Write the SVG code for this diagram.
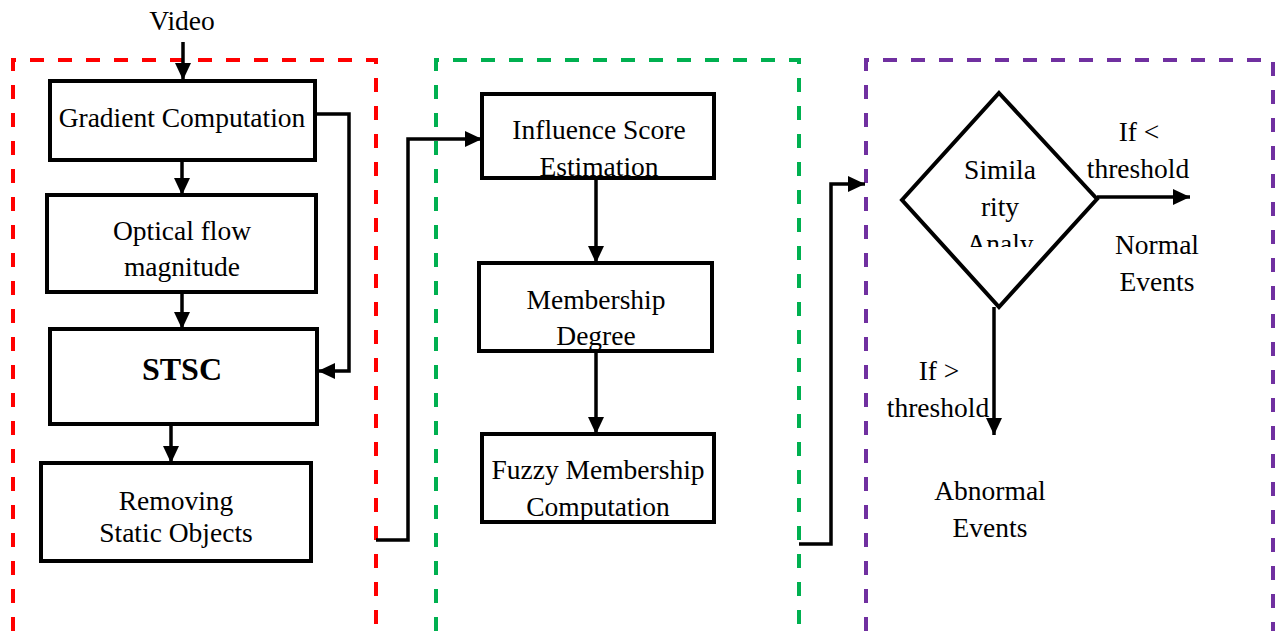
<svg xmlns="http://www.w3.org/2000/svg" width="1277" height="631" viewBox="0 0 1277 631">
<style>
.box{fill:#fff;stroke:#000;stroke-width:4}
.ln{fill:none;stroke:#000;stroke-width:3.5}
.t{font-family:"Liberation Serif","Times New Roman",serif;font-size:27.5px;fill:#000;text-anchor:middle}
.b{font-weight:bold;font-size:32px}
.grp{fill:none;stroke-width:4;stroke-dasharray:14 14}
</style>
<defs>
<marker id="ah" markerUnits="userSpaceOnUse" markerWidth="17" markerHeight="16" refX="17" refY="8" orient="auto">
<path d="M0,0 L17,8 L0,16 Z" fill="#000"/>
</marker>
<clipPath id="dclip"><rect x="900" y="90" width="200" height="157"/></clipPath>
</defs>
<rect width="1277" height="631" fill="#fff"/>
<g id="groups">
<path class="grp" stroke="#FF0000" d="M13,631 V60 H376 V631"/>
<path class="grp" stroke="#00B050" d="M436,631 V60 H799 V631"/>
<path class="grp" stroke="#7030A0" d="M866,631 V60 H1273 V631"/>
</g>
<g id="connectors">
<path class="ln" d="M183,42 V80" marker-end="url(#ah)"/>
<path class="ln" d="M182,160 V195" marker-end="url(#ah)"/>
<path class="ln" d="M182,292 V329" marker-end="url(#ah)"/>
<path class="ln" d="M171,424 V463" marker-end="url(#ah)"/>
<path class="ln" d="M315,114 H349 V371 H318" marker-end="url(#ah)"/>
<path class="ln" d="M376,540 H408 V139 H482" marker-end="url(#ah)"/>
<path class="ln" d="M596,178 V263" marker-end="url(#ah)"/>
<path class="ln" d="M596,351 V434" marker-end="url(#ah)"/>
<path class="ln" d="M799,544 H831 V184 H865" marker-end="url(#ah)"/>
<path class="ln" d="M1097,197 H1190" marker-end="url(#ah)"/>
<path class="ln" d="M994,307 V435" marker-end="url(#ah)"/>
</g>
<text class="t" x="182" y="30">Video</text>
<g id="gradient">
<rect class="box" x="50" y="81" width="265" height="79"/>
<text class="t" x="182" y="127">Gradient Computation</text>
</g>
<g id="optical">
<rect class="box" x="47" y="195" width="269" height="97"/>
<text class="t" x="182" y="240">Optical flow</text>
<text class="t" x="182" y="276">magnitude</text>
</g>
<g id="stsc">
<rect class="box" x="50" y="329" width="267" height="95"/>
<text class="t b" x="182" y="380">STSC</text>
</g>
<g id="removing">
<rect class="box" x="41" y="463" width="270" height="98"/>
<text class="t" x="176" y="510">Removing</text>
<text class="t" x="176" y="542">Static Objects</text>
</g>
<g id="influence">
<rect class="box" x="482" y="94" width="232" height="84"/>
<text class="t" x="599" y="139">Influence Score</text>
<text class="t" x="599" y="176">Estimation</text>
</g>
<g id="membership">
<rect class="box" x="479" y="263" width="233" height="88"/>
<text class="t" x="596" y="309">Membership</text>
<text class="t" x="596" y="345">Degree</text>
</g>
<g id="fuzzy">
<rect class="box" x="482" y="434" width="232" height="88"/>
<text class="t" x="598" y="479">Fuzzy Membership</text>
<text class="t" x="598" y="516">Computation</text>
</g>
<g id="similarity">
<path class="box" d="M999,93 L1097,199 L999,307 L902,200 Z"/>
<g clip-path="url(#dclip)">
<text class="t" x="1000" y="179">Simila</text>
<text class="t" x="1000" y="216">rity</text>
<text class="t" x="1000" y="253">Analy</text>
</g>
</g>
<g id="labels">
<text class="t" x="1139" y="141">If &lt;</text>
<text class="t" x="1138" y="178">threshold</text>
<text class="t" x="1157" y="254">Normal</text>
<text class="t" x="1157" y="291">Events</text>
<text class="t" x="939" y="380">If &gt;</text>
<text class="t" x="938" y="417">threshold</text>
<text class="t" x="990" y="500">Abnormal</text>
<text class="t" x="990" y="537">Events</text>
</g>
</svg>
